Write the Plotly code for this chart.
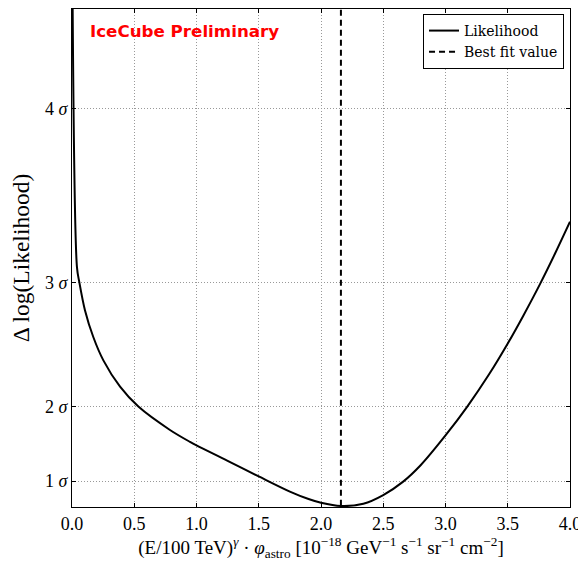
import plotly.graph_objects as go

# Data
phi = [0.0, 0.04, 0.059, 0.104, 0.171, 0.252, 0.386, 0.533, 0.787, 0.948, 1.0,
       1.25, 1.5, 1.75, 1.9, 2.0, 2.16, 2.34, 2.5, 2.66,
       2.8, 3.0, 3.175, 3.35, 3.5, 3.625, 3.76, 3.88, 4.0]
dllh = [12.0, 4.8, 4.50, 3.94, 3.40, 2.93, 2.40, 2.00, 1.53, 1.29, 1.22,
        0.91, 0.595, 0.29, 0.14, 0.065, 0.0, 0.045, 0.22, 0.49,
        0.82, 1.42, 2.00, 2.65, 3.27, 3.83, 4.47, 5.08, 5.72]
best_fit = 2.16
sigma_vals = [0.5, 2.0, 4.5, 8.0]
sigma_text = ["1 <i>σ</i>", "2 <i>σ</i>", "3 <i>σ</i>", "4 <i>σ</i>"]
x_ticks = [0.0, 0.5, 1.0, 1.5, 2.0, 2.5, 3.0, 3.5, 4.0]

fig = go.Figure()
fig.add_trace(go.Scatter(x=phi, y=dllh, mode="lines", name="Likelihood",
                         line=dict(color="black", width=2, shape="spline", smoothing=0.9)))
fig.add_trace(go.Scatter(x=[best_fit, best_fit], y=[-1, 11], mode="lines",
                         name="Best fit value",
                         line=dict(color="black", width=2, dash="6px,4px")))

serif = "Liberation Serif, DejaVu Serif, serif"
grid = dict(showgrid=True, gridcolor="#999999", griddash="1px,2px", gridwidth=1,
            showline=True, linecolor="black", linewidth=1, mirror="ticks",
            ticks="inside", ticklen=4, tickcolor="black", zeroline=False)
fig.update_layout(
    width=578, height=553,
    margin=dict(l=64, r=16, t=1, b=54),
    paper_bgcolor="white", plot_bgcolor="white",
    showlegend=True,
    legend=dict(x=0.988, y=0.99, xanchor="right", yanchor="top",
                bgcolor="white", bordercolor="black", borderwidth=1,
                font=dict(family="DejaVu Serif", size=14, color="black"),
                tracegroupgap=0, itemwidth=30),
    xaxis=dict(range=[0, 4], tickvals=x_ticks,
               ticktext=[f"{v:.1f}" for v in x_ticks],
               tickfont=dict(family=serif, size=18, color="black"),
               title=dict(text="(E/100 TeV)<sup><i>γ</i></sup> · <i>φ</i><sub>astro</sub> "
                               "[10<sup>−18</sup> GeV<sup>−1</sup> s<sup>−1</sup> sr<sup>−1</sup> cm<sup>−2</sup>]",
                          font=dict(family=serif, size=19, color="black"), standoff=6),
               **grid),
    yaxis=dict(range=[-0.02, 10.0], tickvals=sigma_vals, ticktext=sigma_text,
               tickfont=dict(family=serif, size=18, color="black"),
               title=dict(text="Δ log(Likelihood)",
                          font=dict(family=serif, size=23.5, color="black"), standoff=12),
               **grid),
)
fig.add_annotation(text="<b>IceCube Preliminary</b>", xref="paper", yref="paper",
                   x=0.032, y=0.956, xanchor="left", yanchor="middle", showarrow=False,
                   font=dict(family="DejaVu Sans", size=16.7, color="red"))

fig.write_html("out.html")
